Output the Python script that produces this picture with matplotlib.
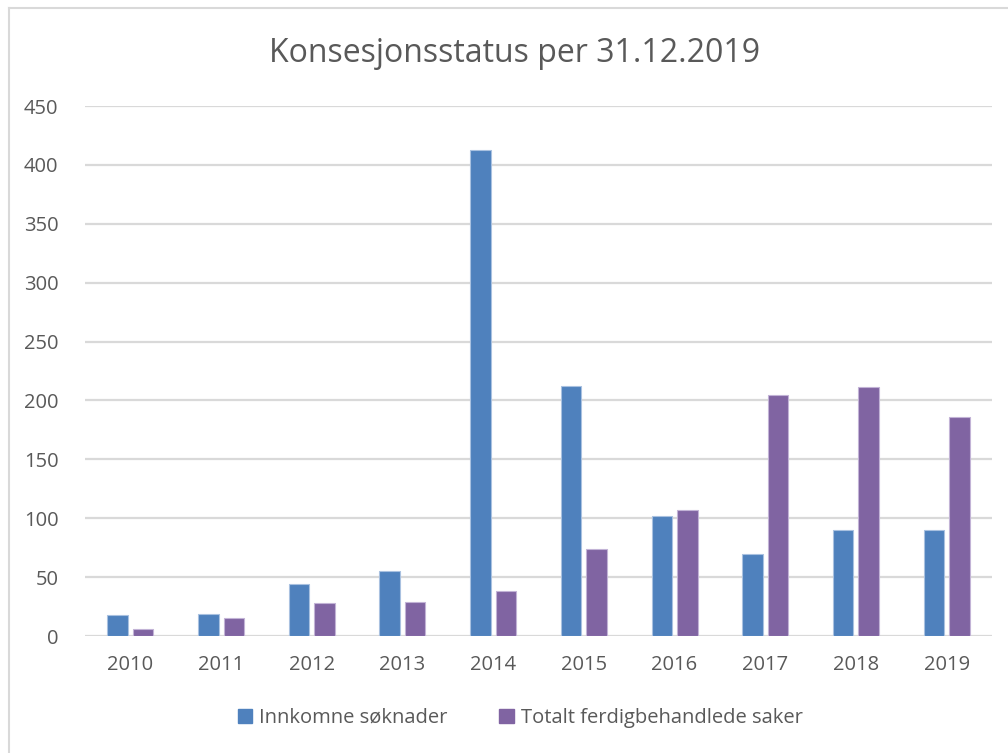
import matplotlib
matplotlib.use("Agg")
import matplotlib.pyplot as plt
import numpy as np
from matplotlib.patches import Rectangle
from matplotlib.lines import Line2D

plt.rcParams['font.family'] = ['Open Sans', 'DejaVu Sans']

years = ["2010", "2011", "2012", "2013", "2014", "2015", "2016", "2017", "2018", "2019"]
innkomne = [18, 19, 44, 55, 413, 212, 102, 70, 90, 90]
ferdig = [6, 15, 28, 29, 38, 74, 107, 205, 211, 186]
series_names = ["Innkomne søknader", "Totalt ferdigbehandlede saker"]
yticks = [0, 50, 100, 150, 200, 250, 300, 350, 400, 450]

blue = "#4f81bd"
purple = "#8064a2"
txt = "#595959"
grid = "#d9d9d9"

fig = plt.figure(figsize=(10.08, 7.53), dpi=100)
ax = fig.add_axes([85/1008, 117/753, 907/1008, 530/753])

x = np.arange(len(years))
w = 0.226
off = 0.141
ax.bar(x - off, innkomne, w, color=blue, edgecolor="#a9c1e0", linewidth=0.8, zorder=3, label=series_names[0])
ax.bar(x + off, ferdig, w, color=purple, edgecolor="#c2b3d6", linewidth=0.8, zorder=3, label=series_names[1])

ax.set_xlim(-0.5, len(years) - 0.5)
ax.set_ylim(0, 450)
ax.set_yticks(yticks)
ax.set_yticklabels([str(t) for t in yticks])
ax.set_xticks(x)
ax.set_xticklabels(years)
for s in ax.spines.values():
    s.set_visible(False)
ax.tick_params(axis='both', length=0, labelsize=14.5, colors=txt)
ax.tick_params(axis='y', pad=19)
ax.tick_params(axis='x', pad=14)
ax.yaxis.grid(True, color=grid, linewidth=1.6, zorder=0)
ax.set_axisbelow(True)

fig.text(0.51, 1 - 53/753, "Konsesjonsstatus per 31.12.2019", ha="center", va="center",
         fontsize=23, color=txt)

handles = [Rectangle((0, 0), 1, 1, color=blue), Rectangle((0, 0), 1, 1, color=purple)]
fig.legend(handles, series_names, loc="center", bbox_to_anchor=(520/1008, 1 - 718/753),
           ncol=2, frameon=False, fontsize=14.5, labelcolor=txt, handlelength=0.7,
           handleheight=0.7, handletextpad=0.35, columnspacing=2.6)

# outer chart frame
fig.add_artist(Line2D([8.5/1008, 8.5/1008], [0, 1 - 7.5/753], transform=fig.transFigure,
                      color="#d9d9d9", linewidth=1.5))
fig.add_artist(Line2D([8.5/1008, 1], [1 - 7.5/753, 1 - 7.5/753], transform=fig.transFigure,
                      color="#d9d9d9", linewidth=1.5))

fig.savefig("out.png", dpi=100)
